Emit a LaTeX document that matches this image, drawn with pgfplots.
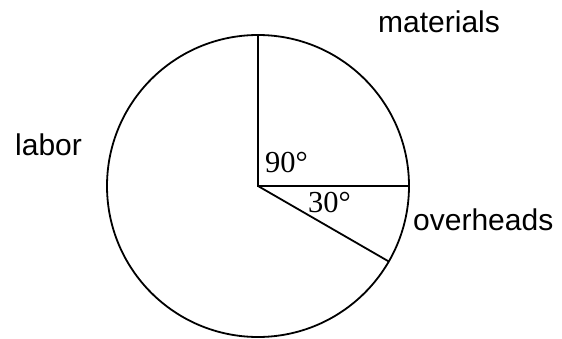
\documentclass[border=0pt]{standalone}
\usepackage{pgfplots}
\pgfplotsset{compat=1.18}
\usepackage{fontspec}
\setmainfont{Liberation Sans}
\newfontfamily\serif{Liberation Serif}
\begin{document}
\begin{tikzpicture}
\begin{axis}[
  x=1pt, y=1pt, xmin=0, xmax=562, ymin=0, ymax=338,
  scale only axis, hide axis, clip=false,
]
\path (axis cs:0,0) rectangle (axis cs:562,338);
% center (258,152), radius 151; materials 90 deg, overheads 30 deg, labor 240 deg
\draw[line width=1.8pt] (axis cs:258,152) circle[radius=151];
\addplot[line width=1.8pt, mark=none] coordinates {(258,303) (258,152) (409,152)};
\addplot[line width=1.8pt, mark=none] coordinates {(258,152) (388.8,76.5)};
\node[anchor=base west, inner sep=0pt, font=\fontsize{30}{35}\selectfont] at (axis cs:378,305) {materials};
\node[anchor=base west, inner sep=0pt, font=\fontsize{30}{35}\selectfont] at (axis cs:15,183) {labor};
\node[anchor=base west, inner sep=0pt, font=\fontsize{30}{35}\selectfont] at (axis cs:413,108) {overheads};
\node[anchor=base west, inner sep=0pt, font=\serif\fontsize{30.5}{35}\selectfont] at (axis cs:265,166) {90°};
\node[anchor=base west, inner sep=0pt, font=\serif\fontsize{30.5}{35}\selectfont] at (axis cs:308,126) {30°};
\end{axis}
\end{tikzpicture}
\end{document}
